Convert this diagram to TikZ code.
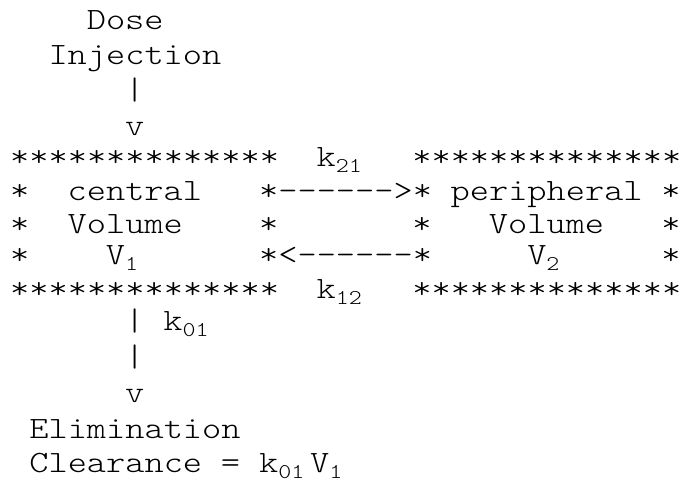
\documentclass[tikz,border=0pt]{standalone}
\usepackage{fontspec}
\setmonofont[FakeStretch=1.18]{lmmonolt10-regular.otf}
\newcommand\lowsub[1]{\raisebox{-6pt}{\fontsize{21}{21}\selectfont #1}}
\def\cw{19.15}

\begin{document}
\begin{tikzpicture}[x=1pt,y=-1pt,
    txt/.style={anchor=base west,inner sep=0pt,font=\ttfamily\fontsize{31}{34}\selectfont}]
    \useasboundingbox (0,0) rectangle (684,483);

    \node (dose) at ({10+4*\cw},29) [txt]{Dose};
    \node (inj) at ({10+2*\cw},64) [txt]{Injection};
    \node (inbar) at ({10+6*\cw},99) [txt]{|};
    \node (inv) at ({10+6*\cw},135) [txt]{v};

    \node (ctop) at ({10+0*\cw},166) [txt]{**************};
    \node (k21) at ({10+16*\cw},166) [txt]{k\lowsub{21}};
    \node (ptop) at ({10+21*\cw},166) [txt]{**************};

    \node (cl1) at ({10+0*\cw},200) [txt]{*};
    \node (cname) at ({10+3*\cw},200) [txt]{central};
    \node (fwd) at ({10+13*\cw},200) [txt]{*-{}-{}-{}-{}-{}->*};
    \node (pname) at ({10+23*\cw},200) [txt]{peripheral};
    \node (pr1) at ({10+34*\cw},200) [txt]{*};

    \node (cl2) at ({10+0*\cw},233) [txt]{*};
    \node (cvol) at ({10+3*\cw},233) [txt]{Volume};
    \node (cr2) at ({10+13*\cw},233) [txt]{*};
    \node (pl2) at ({10+21*\cw},233) [txt]{*};
    \node (pvol) at ({10+25*\cw},233) [txt]{Volume};
    \node (pr2) at ({10+34*\cw},233) [txt]{*};

    \node (cl3) at ({10+0*\cw},264) [txt]{*};
    \node (v1) at ({10+5*\cw},264) [txt]{V\lowsub{1}};
    \node (back) at ({10+13*\cw},264) [txt]{*<-{}-{}-{}-{}-{}-*};
    \node (v2) at ({10+27*\cw},264) [txt]{V\lowsub{2}};
    \node (pr3) at ({10+34*\cw},264) [txt]{*};

    \node (cbot) at ({10+0*\cw},298) [txt]{**************};
    \node (k12) at ({10+16*\cw},298) [txt]{k\lowsub{12}};
    \node (pbot) at ({10+21*\cw},298) [txt]{**************};

    \node (outbar1) at ({10+6*\cw},330) [txt]{|};
    \node (k01) at ({10+8*\cw},330) [txt]{k\lowsub{01}};
    \node (outbar2) at ({10+6*\cw},366) [txt]{|};
    \node (outv) at ({10+6*\cw},402) [txt]{v};

    \node (elim) at ({10+1*\cw},438) [txt]{Elimination};
    \node (clear) at ({10+1*\cw},472) [txt]{Clearance};
    \node (eq) at ({10+11*\cw},472) [txt]{=};
    \node (ck01) at ({10+13*\cw},472) [txt]{k\lowsub{01}};
    \node (cv1) at (310,472) [txt]{V\lowsub{1}};

\end{tikzpicture}
\end{document}
